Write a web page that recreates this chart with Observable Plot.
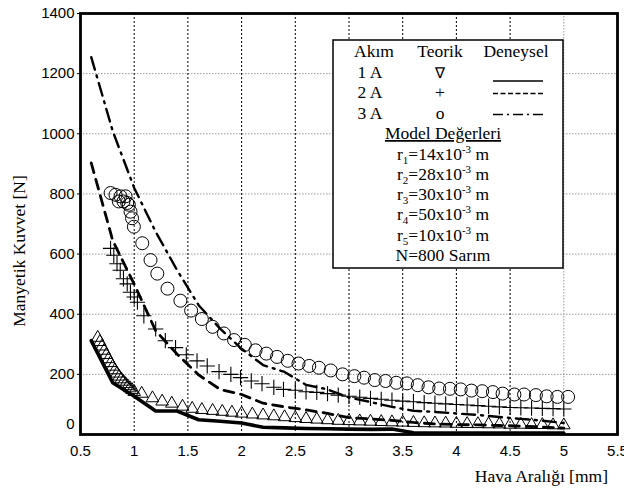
<!DOCTYPE html>
<html><head><meta charset="utf-8">
<script src="https://cdn.jsdelivr.net/npm/d3@7"></script>
<script src="https://cdn.jsdelivr.net/npm/@observablehq/plot@0.6"></script>
<style>body{margin:0;background:#fff} svg{display:block}</style>
</head><body><div id="chart"></div>
<script>
// ---- data ----
const gapExp = [0.6,0.8,1.0,1.2,1.4,1.6,1.8,2.0,2.2,2.4,2.6,2.8,3.0,3.2,3.4,3.6,3.8,4.0,4.2,4.4,4.6,4.8,5.0];
const exp1A = [312,172,127,78,78,49,44,38,24,22,20,19,18,17,18,6,5,5,5,5,5,5,5];
const exp2A = [903,645,500,345,267,198,150,133,104,92,82,70,56,52,47,40,35,33,32,30,28,25,21];
const exp3A = [1255,1009,820,674,546,430,352,285,231,208,165,150,123,108,92,79,75,70,65,58,52,46,38];

const th1x = [0.66,0.68,0.70,0.72,0.74,0.76,0.78,0.80,0.82,0.84,0.86,0.88,0.90,0.92,0.94,0.96,0.98,1.00,1.07,1.17,1.26,1.35,1.45,1.54,1.63,1.73,1.82,1.91,2.0,2.1,2.2,2.3,2.4,2.5,2.6,2.7,2.8,2.9,3.0,3.1,3.2,3.3,3.4,3.5,3.6,3.7,3.8,3.9,4.0,4.1,4.2,4.3,4.4,4.5,4.6,4.7,4.8,4.9,5.0];
const th1y = [322,308,293,279,265,251,238,226,214,203,193,184,176,168,161,154,148,142,136,121,110,103,93,86,82,79,76,73,70,67,64,61,58,55,52,50,48,46,45,44,43,42,41,40,39,38,37.5,37,36,35.5,35,34.5,34,33,33,32,32,31,31];

const th2x = [0.78,0.81,0.84,0.87,0.90,0.935,0.965,1.00,1.03,1.09,1.2,1.29,1.385,1.485,1.585,1.68,1.79,1.9,1.99,2.09,2.19,2.3,2.39,2.5,2.6,2.7,2.8,2.9,3.0,3.1,3.2,3.3,3.4,3.5,3.6,3.7,3.8,3.9,4.0,4.1,4.2,4.3,4.4,4.5,4.6,4.7,4.8,4.9,5.0];
const th2y = [619,596,568,546,518,501,473,457,440,395,351,312,289,265,245,228,209,200,189,178,169,157,150,147,142,140,136,131,127,124,120,117,114,111,109,106,104,102,100,98,96,94,92,90,89,88,87,86,85];

const th3x = [0.78,0.826,0.857,0.873,0.90,0.92,0.935,0.95,0.966,0.98,0.997,1.075,1.152,1.215,1.31,1.43,1.53,1.63,1.73,1.835,1.93,2.03,2.13,2.23,2.33,2.43,2.53,2.63,2.72,2.83,2.94,3.05,3.14,3.24,3.34,3.44,3.54,3.64,3.74,3.84,3.94,4.04,4.14,4.24,4.34,4.43,4.54,4.63,4.74,4.84,4.94,5.04];
const th3y = [803,797,775,792,775,792,770,764,741,719,691,636,580,535,485,445,412,384,358,336,314,298,280,269,258,245,236,228,222,213,200,194,189,181,178,172,170,164,157,153,152,150,146,144,141,136,133,133,131,127,125,125];

const xTicks = [0.5,1,1.5,2,2.5,3,3.5,4,4.5,5,5.5];
const yTicks = [0,200,400,600,800,1000,1200,1400];

const xTitle = "Hava Aralığı [mm]";
const yTitle = "Manyetik Kuvvet [N]";
const legendHeader = ["Akım","Teorik","Deneysel"];
const legendCurrents = ["1 A","2 A","3 A"];
const legendSymbols = ["\u2207","+","o"];
const modelTitle = "Model Değerleri";
const modelIdx = ["1","2","3","4","5"];
const modelVals = ["14","28","30","50","10"];
const turnsText = "N=800 Sarım";

// ---- tables ----
const expRows = gapExp.flatMap((g,i)=>[
  {g, F: exp1A[i], s:"1A"},{g, F: exp2A[i], s:"2A"},{g, F: exp3A[i], s:"3A"}]);
const th1 = th1x.map((g,i)=>({g, F: th1y[i]}));
const th2 = th2x.map((g,i)=>({g, F: th2y[i]}));
const th3 = th3x.map((g,i)=>({g, F: th3y[i]}));

const sans = "'Liberation Sans', Arial, sans-serif";
const serif = "'Liberation Serif', 'Times New Roman', serif";

const plot = Plot.plot({
  width: 624, height: 489,
  marginLeft: 80, marginRight: 7, marginTop: 13, marginBottom: 55,
  x: {domain: [0.5, 5.5], label: null},
  y: {domain: [0, 1400], label: null},
  style: {fontFamily: sans, fontSize: "15px", background: "white", color: "black", overflow: "visible"},
  marks: [
    Plot.ruleY(yTicks.filter(v => v > 0 && v < 1400), {stroke: "#9a9a9a", strokeDasharray: "1.5,1.5", strokeWidth: 1}),
    Plot.ruleX(xTicks.filter(v => v > 0.5 && v < 5), {stroke: "#000", strokeDasharray: "2,2", strokeWidth: 1}),
    Plot.ruleX([5], {stroke: "#9a9a9a", strokeDasharray: "1.5,1.5", strokeWidth: 1}),
    Plot.line(expRows, {filter: d => d.s === "1A", x: "g", y: "F", stroke: "black", strokeWidth: 3.6, strokeLinejoin: "round"}),
    Plot.line(expRows, {filter: d => d.s === "2A", x: "g", y: "F", stroke: "black", strokeWidth: 2.8, strokeDasharray: "10,7"}),
    Plot.line(expRows, {filter: d => d.s === "3A", x: "g", y: "F", stroke: "black", strokeWidth: 2.4, strokeDasharray: "13,6,2,6"}),
    Plot.dot(th1, {x: "g", y: "F", symbol: "triangle2", r: 6, stroke: "black", strokeWidth: 1, fill: "none"}),
    Plot.dot(th2, {x: "g", y: "F", symbol: "plus", r: 5, stroke: "black", strokeWidth: 1.1, fill: "none"}),
    Plot.dot(th3, {x: "g", y: "F", symbol: "circle", r: 6.5, stroke: "black", strokeWidth: 1, fill: "none"}),
    Plot.frame({stroke: "black", strokeWidth: 2.8}),
    Plot.axisX({ticks: xTicks, tickSize: 0, tickPadding: 11, tickFormat: d => String(d), label: null, fontSize: 15}),
    Plot.axisY({ticks: yTicks.filter(v => v > 0), tickSize: 3, tickPadding: 3, tickFormat: d => String(d), label: null, fontSize: 15}),
    Plot.text([0], {x: 0.5, y: d => d, text: d => String(d), textAnchor: "end", dx: -6, dy: -10, fontSize: 15})
  ]
});

document.getElementById("chart").appendChild(plot);

// ---- titles and legend box ----
const svg = d3.select(plot);
svg.append("text")
  .attr("transform", "translate(25,251) rotate(-90)")
  .attr("text-anchor", "middle").style("font-family", serif).style("font-size", "17.5px")
  .attr("fill", "black").text(yTitle);
svg.append("text")
  .attr("x", 608).attr("y", 482)
  .attr("text-anchor", "end").style("font-family", serif).style("font-size", "17.5px")
  .attr("fill", "black").text(xTitle);

const lg = svg.append("g").style("font-family", serif).style("font-size", "17.5px").attr("fill", "black");
lg.append("rect").attr("x", 333).attr("y", 40).attr("width", 230).attr("height", 228)
  .attr("fill", "white").attr("stroke", "black").attr("stroke-width", 1.5);

const colX = [374, 440, 516];
legendHeader.forEach((t, i) => lg.append("text").attr("x", colX[i]).attr("y", 57).attr("text-anchor", "middle").text(t));
const rowY = [77.5, 98, 118.5];
legendCurrents.forEach((t, i) => {
  lg.append("text").attr("x", 370).attr("y", rowY[i]).attr("text-anchor", "middle").text(t);
  lg.append("text").attr("x", 440).attr("y", rowY[i]).attr("text-anchor", "middle")
    .style("font-size", i === 0 ? "15px" : "17.5px").text(legendSymbols[i]);
});
const lineY = [81, 93.5, 114.5];
const lineDash = [null, "5,2.5", "10,4,2,4"];
lineY.forEach((y, i) => {
  const l = lg.append("line").attr("x1", 493).attr("x2", 543).attr("y1", y).attr("y2", y)
    .attr("stroke", "black").attr("stroke-width", 1.4);
  if (lineDash[i]) l.attr("stroke-dasharray", lineDash[i]);
});
lg.append("text").attr("x", 443).attr("y", 139).attr("text-anchor", "middle")
  .style("text-decoration", "underline").text(modelTitle);
modelIdx.forEach((k, i) => {
  const t = lg.append("text").attr("x", 443).attr("y", 159.5 + i * 20.3).attr("text-anchor", "middle");
  t.append("tspan").text("r");
  t.append("tspan").style("font-size", "11px").attr("dy", 4).text(k);
  t.append("tspan").attr("dy", -4).text("=" + modelVals[i] + "x10");
  t.append("tspan").style("font-size", "11px").attr("dy", -7).text("-3");
  t.append("tspan").attr("dy", 7).text(" m");
});
lg.append("text").attr("x", 443).attr("y", 261).attr("text-anchor", "middle").text(turnsText);
</script>
</body></html>
